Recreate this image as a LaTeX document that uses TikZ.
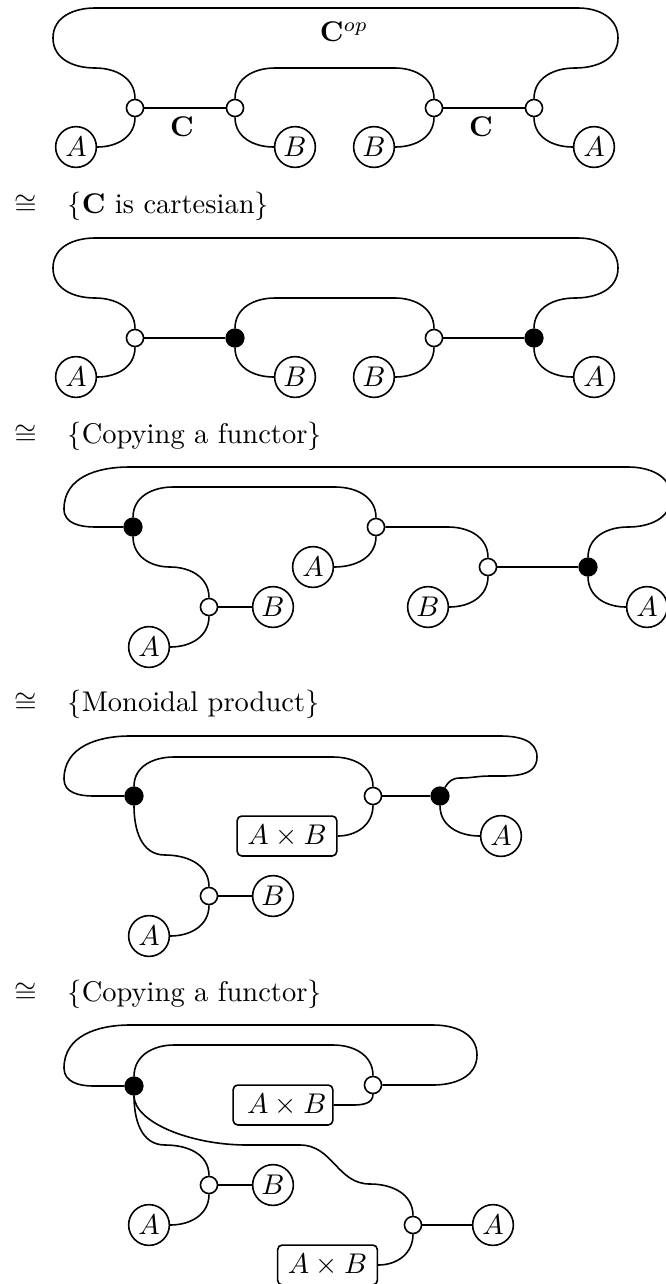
\documentclass[tikz,border=0pt]{standalone}
\tikzset{
  wire/.style={line width=0.56pt,looseness=1.05},
  obj/.style={circle,draw,line width=0.56pt,minimum size=14.3pt,inner sep=0pt,fill=white},
  wnode/.style={circle,draw,line width=0.56pt,minimum size=6pt,inner sep=0pt,fill=white},
  bnode/.style={circle,draw,fill=black,line width=0.56pt,minimum size=6.2pt,inner sep=0pt},
  boxobj/.style={rectangle,rounded corners=1.6pt,draw,line width=0.56pt,minimum width=35pt,minimum height=14pt,inner sep=0pt,fill=white},
  txt/.style={anchor=base west,inner sep=0pt},
  lab/.style={inner sep=0pt}
}
\begin{document}
\begin{tikzpicture}[x=0.351pt,y=0.351pt]
\useasboundingbox (0,0) rectangle (666,-1284);

% ---- Diagram 1
\node[wnode] (a1) at (135,-108) {};
\node[wnode] (a2) at (235,-108) {};
\node[wnode] (a3) at (434,-108) {};
\node[wnode] (a4) at (534,-108) {};
\node[obj] (aA1) at (76,-147) {$A$};
\node[obj] (aB1) at (295,-147) {$B$};
\node[obj] (aB2) at (374,-147) {$B$};
\node[obj] (aA2) at (594,-147) {$A$};
\node[lab] (aop) at (344,-32) {$\mathbf{C}^{op}$};
\node[lab] (ac1) at (182,-127) {$\mathbf{C}$};
\node[lab] (ac2) at (481,-127) {$\mathbf{C}$};
\draw[wire] (a1.north) to[out=90,in=0] (95,-68) to[out=180,in=-90] (53,-38) to[out=90,in=180] (95,-8)
  -- (578,-8) to[out=0,in=90] (618,-38) to[out=-90,in=0] (575,-68) to[out=180,in=90] (a4.north);
\draw[wire] (a2.north) to[out=90,in=180] (275,-68) -- (395,-68) to[out=0,in=90] (a3.north);
\draw[wire] (a1.east) -- (a2.west);
\draw[wire] (a3.east) -- (a4.west);
\draw[wire] (a1.south) to[out=-90,in=0] (aA1.east);
\draw[wire] (a2.south) to[out=-90,in=180] (aB1.west);
\draw[wire] (a3.south) to[out=-90,in=0] (aB2.east);
\draw[wire] (a4.south) to[out=-90,in=180] (aA2.west);

% ---- Step 1
\node[txt] (c1) at (14,-213) {$\cong$};
\node[txt] (s1) at (67,-213) {$\{\mathbf{C}$ is cartesian$\}$};

% ---- Diagram 2
\node[wnode] (b1) at (135,-338) {};
\node[bnode] (b2) at (235,-338) {};
\node[wnode] (b3) at (434,-338) {};
\node[bnode] (b4) at (534,-338) {};
\node[obj] (bA1) at (76,-377) {$A$};
\node[obj] (bB1) at (295,-377) {$B$};
\node[obj] (bB2) at (374,-377) {$B$};
\node[obj] (bA2) at (594,-377) {$A$};
\draw[wire] (b1.north) to[out=90,in=0] (95,-298) to[out=180,in=-90] (53,-268) to[out=90,in=180] (95,-238)
  -- (578,-238) to[out=0,in=90] (618,-268) to[out=-90,in=0] (575,-298) to[out=180,in=90] (b4.north);
\draw[wire] (b2.north) to[out=90,in=180] (275,-298) -- (395,-298) to[out=0,in=90] (b3.north);
\draw[wire] (b1.east) -- (b2.west);
\draw[wire] (b3.east) -- (b4.west);
\draw[wire] (b1.south) to[out=-90,in=0] (bA1.east);
\draw[wire] (b2.south) to[out=-90,in=180] (bB1.west);
\draw[wire] (b3.south) to[out=-90,in=0] (bB2.east);
\draw[wire] (b4.south) to[out=-90,in=180] (bA2.west);

% ---- Step 2
\node[txt] (c2) at (14,-443) {$\cong$};
\node[txt] (s2) at (67,-443) {$\{$Copying a functor$\}$};

% ---- Diagram 3
\node[bnode] (e1) at (133,-527) {};
\node[wnode] (e2) at (376,-527) {};
\node[wnode] (e3) at (488,-567) {};
\node[bnode] (e4) at (588,-567) {};
\node[wnode] (e5) at (209,-607) {};
\node[obj] (eA0) at (313,-567) {$A$};
\node[obj] (eB1) at (428,-607) {$B$};
\node[obj] (eA2) at (647,-607) {$A$};
\node[obj] (eB2) at (273,-607) {$B$};
\node[obj] (eA1) at (149,-647) {$A$};
\draw[wire] (e1.west) -- (95,-527) to[out=180,in=-90] (64,-509) to[out=90,in=180] (129,-467)
  -- (628,-467) to[out=0,in=90] (671,-497) to[out=-90,in=0] (628,-527) to[out=180,in=90] (e4.north);
\draw[wire] (e1.north) to[out=90,in=180] (173,-487) -- (335,-487) to[out=0,in=90] (e2.north);
\draw[wire] (e2.east) -- (448,-527) to[out=0,in=90] (e3.north);
\draw[wire] (e3.east) -- (e4.west);
\draw[wire] (e2.south) to[out=-90,in=0] (eA0.east);
\draw[wire] (e3.south) to[out=-90,in=0] (eB1.east);
\draw[wire] (e4.south) to[out=-90,in=180] (eA2.west);
\draw[wire] (e1.south) to[out=-90,in=180] (170,-567) to[out=0,in=90] (e5.north);
\draw[wire] (e5.east) -- (eB2.west);
\draw[wire] (e5.south) to[out=-90,in=0] (eA1.east);

% ---- Step 3
\node[txt] (c3) at (14,-711) {$\cong$};
\node[txt] (s3) at (67,-711) {$\{$Monoidal product$\}$};

% ---- Diagram 4
\node[bnode] (f1) at (134,-796) {};
\node[wnode] (f2) at (373,-796) {};
\node[bnode] (f3) at (440,-796) {};
\node[wnode] (f4) at (209,-896) {};
\node[boxobj] (fX) at (287,-836) {$A\times B$};
\node[obj] (fA0) at (501,-836) {$A$};
\node[obj] (fB) at (273,-896) {$B$};
\node[obj] (fA1) at (149,-936) {$A$};
\draw[wire] (f1.west) -- (93,-796) to[out=180,in=-90] (64,-779) to[out=90,in=180] (130,-736)
  -- (500,-736) to[out=0,in=90] (537,-757) to[out=-90,in=0] (490,-776) to[out=180,in=0] (460,-778) to[out=180,in=60] (f3.60);
\draw[wire] (f1.north) to[out=90,in=180] (174,-757) -- (333,-757) to[out=0,in=90] (f2.north);
\draw[wire] (f2.east) -- (f3.west);
\draw[wire] (f2.south) to[out=-90,in=0] (fX.east);
\draw[wire] (f3.south) to[out=-90,in=180] (fA0.west);
\draw[wire] (f1.south) to[out=-90,in=180] (165,-855) to[out=0,in=90] (f4.north);
\draw[wire] (f4.east) -- (fB.west);
\draw[wire] (f4.south) to[out=-90,in=0] (fA1.east);

% ---- Step 4
\node[txt] (c4) at (14,-1001) {$\cong$};
\node[txt] (s4) at (67,-1001) {$\{$Copying a functor$\}$};

% ---- Diagram 5
\node[bnode] (g1) at (134,-1086) {};
\node[wnode] (g2) at (373,-1085) {};
\node[wnode] (g3) at (209,-1185) {};
\node[wnode] (g4) at (413,-1225) {};
\node[boxobj] (gX) at (283,-1105) {\hspace{2.6pt}$A\times B$};
\node[boxobj] (gY) at (327.5,-1265) {$A\times B$};
\node[obj] (gB) at (273,-1185) {$B$};
\node[obj] (gA1) at (149,-1225) {$A$};
\node[obj] (gA2) at (493,-1225) {$A$};
\draw[wire] (g1.west) -- (93,-1086) to[out=180,in=-90] (64,-1068) to[out=90,in=180] (130,-1025)
  -- (433,-1025) to[out=0,in=90] (477,-1055) to[out=-90,in=0] (433,-1085) -- (g2.east);
\draw[wire] (g1.north) to[out=90,in=180] (174,-1045) -- (333,-1045) to[out=0,in=90] (g2.north);
\draw[wire] (g2.south) to[out=-90,in=0] (353,-1105) -- (gX.east);
\draw[wire] (g1.south) to[out=-90,in=180] (165,-1145) to[out=0,in=90] (g3.north);
\draw[wire] (g3.east) -- (gB.west);
\draw[wire] (g3.south) to[out=-90,in=0] (gA1.east);
\draw[wire] (g1.south) .. controls (134,-1122) and (190,-1145) .. (247,-1145) -- (300,-1145)
  to[out=0,in=180] (370,-1184) to[out=0,in=90] (g4.north);
\draw[wire] (g4.east) -- (gA2.west);
\draw[wire] (g4.south) to[out=-90,in=0] (gY.east);
\end{tikzpicture}
\end{document}
